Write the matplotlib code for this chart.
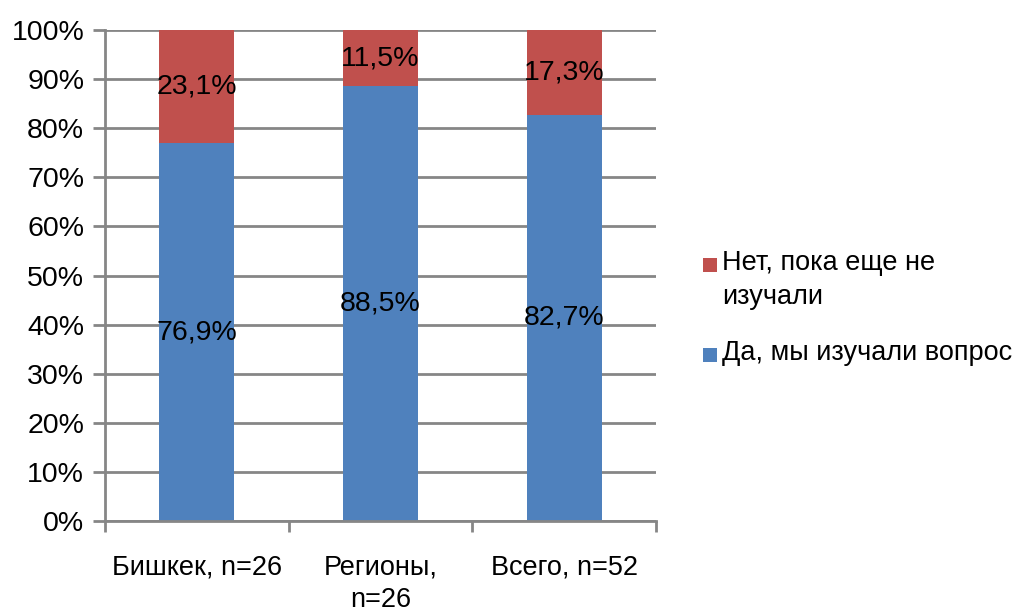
import matplotlib
matplotlib.use("Agg")
import matplotlib.pyplot as plt
from matplotlib.patches import Rectangle
import numpy as np

categories = ["Бишкек, n=26", "Регионы,\nn=26", "Всего, n=52"]
yes_vals = [76.9, 88.5, 82.7]
no_vals = [23.1, 11.5, 17.3]
yes_labels = ["76,9%", "88,5%", "82,7%"]
no_labels = ["23,1%", "11,5%", "17,3%"]
series_names = ["Да, мы изучали вопрос", "Нет, пока еще не\nизучали"]
yticks = list(range(0, 101, 10))

blue = "#4F81BD"
red = "#C0504D"
grid_c = "#868686"

plt.rcParams["font.family"] = ["Liberation Sans", "DejaVu Sans"]

W, H = 1022, 615
fig = plt.figure(figsize=(W / 100, H / 100), dpi=100)
ax = fig.add_axes([105 / W, 1 - 521 / H, (656 - 105) / W, (521 - 30) / H])

x = np.arange(len(categories))
w = 0.41
ax.bar(x, yes_vals, w, color=blue, edgecolor="none", zorder=3)
ax.bar(x, no_vals, w, bottom=yes_vals, color=red, edgecolor="none", zorder=3)

for i in range(len(categories)):
    ax.text(x[i], yes_vals[i] / 2, yes_labels[i], ha="center", va="center",
            fontsize=20.5, color="black", zorder=4)
    ax.text(x[i], yes_vals[i] + no_vals[i] / 2, no_labels[i], ha="center",
            va="center", fontsize=20.5, color="black", zorder=4)

ax.set_xlim(-0.5, len(categories) - 0.5)
ax.set_ylim(0, 100)
ax.set_yticks(yticks)
ax.set_yticklabels([f"{t}%" for t in yticks], fontsize=20.5)
ax.yaxis.grid(True, color=grid_c, linewidth=2.0, zorder=0)
ax.tick_params(axis="y", length=9, width=2.0, color=grid_c, pad=6)

ax.set_xticks(x)
ax.set_xticklabels(categories, fontsize=19.5, linespacing=1.35)
ax.tick_params(axis="x", which="major", length=0, pad=24)
ax.set_xticks(np.arange(-0.5, len(categories), 1.0), minor=True)
ax.tick_params(axis="x", which="minor", length=8, width=2.0, color=grid_c)

for s in ["top", "right"]:
    ax.spines[s].set_visible(False)
for s in ["left", "bottom"]:
    ax.spines[s].set_color(grid_c)
    ax.spines[s].set_linewidth(2.0)
    ax.spines[s].set_zorder(5)

# legend (drawn manually so the swatch aligns with the first text line)
legend_items = [(red, series_names[1], 265), (blue, series_names[0], 355)]
for color, label, yc in legend_items:
    fig.patches.append(Rectangle((703 / W, 1 - (yc + 7) / H), 14 / W, 14 / H,
                                 transform=fig.transFigure, facecolor=color,
                                 edgecolor="none"))
    fig.text(722 / W, 1 - (yc - 15) / H, label, ha="left", va="top",
             fontsize=19.5, linespacing=1.4)

fig.savefig("out.png", dpi=100)
